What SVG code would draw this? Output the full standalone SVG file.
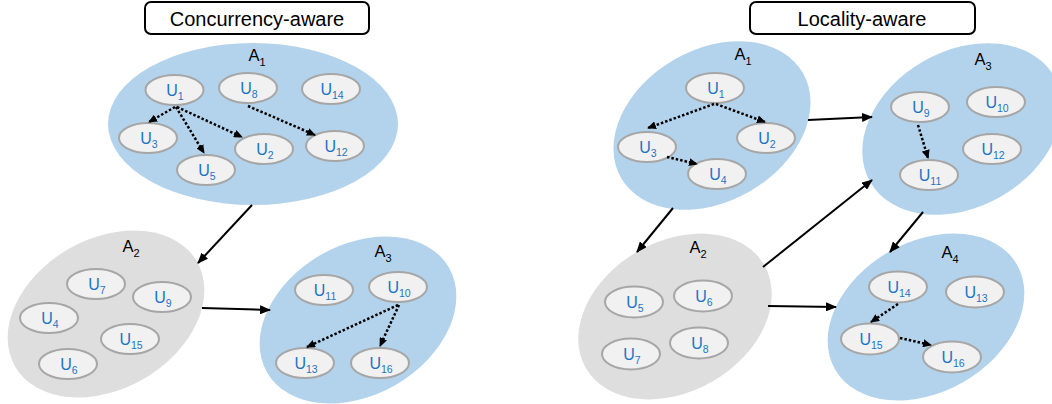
<svg xmlns="http://www.w3.org/2000/svg" width="1052" height="404" viewBox="0 0 1052 404">
<style>
.title{fill:#fff;stroke:#000;stroke-width:2}
.tt{font-family:"Liberation Sans",Arial,sans-serif;font-size:20px;fill:#000;text-anchor:middle}
.blue{fill:#b3d3ec}
.gray{fill:#dedede}
.al{font-family:"Liberation Sans",Arial,sans-serif;font-size:16.5px;fill:#000;text-anchor:middle}
.u{fill:#f1f1f1;stroke:#a6a6a6;stroke-width:2}
.ul{font-family:"Liberation Sans",Arial,sans-serif;font-size:16px;fill:#1e74c4;text-anchor:middle}
.sub{font-size:10.5px}
.asub{font-size:11px}
.solid{stroke:#000;stroke-width:2;fill:none;marker-end:url(#ah)}
.dot{stroke:#000;stroke-width:2.5;stroke-dasharray:2.5 2;fill:none;marker-end:url(#dh)}
</style>
<defs>
<marker id="ah" markerUnits="userSpaceOnUse" markerWidth="11" markerHeight="9" refX="10" refY="4.5" orient="auto"><path d="M0,0 L11,4.5 L0,9 z" fill="#000"/></marker>
<marker id="dh" markerUnits="userSpaceOnUse" markerWidth="9" markerHeight="8" refX="8" refY="4" orient="auto"><path d="M0,0 L9,4 L0,8 z" fill="#000"/></marker>
</defs>

<g id="title-left"><rect class="title" x="145" y="2" width="224" height="32" rx="6"/><text class="tt" x="257" y="26">Concurrency-aware</text></g>
<g id="title-right"><rect class="title" x="750" y="2" width="225" height="32" rx="6"/><text class="tt" x="862" y="26">Locality-aware</text></g>

<!-- Left side -->
<g id="L-A1"><ellipse class="blue" cx="253" cy="124" rx="145" ry="81"/><text class="al" x="257" y="61">A<tspan class="asub" dy="5">1</tspan></text></g>
<g id="L-A2"><ellipse class="gray" cx="0" cy="0" rx="105" ry="75" transform="translate(106,314) rotate(-30)"/><text class="al" x="131" y="252">A<tspan class="asub" dy="5">2</tspan></text></g>
<g id="L-A3"><ellipse class="blue" cx="0" cy="0" rx="105" ry="75" transform="translate(358,320) rotate(-30)"/><text class="al" x="383" y="257">A<tspan class="asub" dy="5">3</tspan></text></g>

<g id="L-U1"><ellipse class="u" cx="174.5" cy="90" rx="29" ry="15"/><text class="ul" x="175" y="96">U<tspan class="sub" dy="4">1</tspan></text></g>
<g id="L-U8"><ellipse class="u" cx="248" cy="88" rx="29" ry="15"/><text class="ul" x="249" y="94">U<tspan class="sub" dy="4">8</tspan></text></g>
<g id="L-U14"><ellipse class="u" cx="331" cy="89" rx="29" ry="15"/><text class="ul" x="332" y="95">U<tspan class="sub" dy="4">14</tspan></text></g>
<g id="L-U3"><ellipse class="u" cx="148" cy="138" rx="29" ry="15"/><text class="ul" x="149" y="144">U<tspan class="sub" dy="4">3</tspan></text></g>
<g id="L-U5"><ellipse class="u" cx="206" cy="170" rx="29" ry="15"/><text class="ul" x="207" y="176">U<tspan class="sub" dy="4">5</tspan></text></g>
<g id="L-U2"><ellipse class="u" cx="264" cy="149" rx="29" ry="15"/><text class="ul" x="265" y="155">U<tspan class="sub" dy="4">2</tspan></text></g>
<g id="L-U12"><ellipse class="u" cx="335" cy="146" rx="29" ry="15"/><text class="ul" x="336" y="152">U<tspan class="sub" dy="4">12</tspan></text></g>

<g id="L-U7"><ellipse class="u" cx="96" cy="284" rx="29" ry="15"/><text class="ul" x="97" y="290">U<tspan class="sub" dy="4">7</tspan></text></g>
<g id="L-U9"><ellipse class="u" cx="162" cy="297" rx="29" ry="15"/><text class="ul" x="163" y="303">U<tspan class="sub" dy="4">9</tspan></text></g>
<g id="L-U4"><ellipse class="u" cx="49" cy="318" rx="29" ry="15"/><text class="ul" x="50" y="324">U<tspan class="sub" dy="4">4</tspan></text></g>
<g id="L-U15"><ellipse class="u" cx="130" cy="339" rx="29" ry="15"/><text class="ul" x="131" y="345">U<tspan class="sub" dy="4">15</tspan></text></g>
<g id="L-U6"><ellipse class="u" cx="68" cy="364" rx="29" ry="15"/><text class="ul" x="69" y="370">U<tspan class="sub" dy="4">6</tspan></text></g>

<g id="L-U11"><ellipse class="u" cx="324" cy="290" rx="29" ry="15"/><text class="ul" x="325" y="296">U<tspan class="sub" dy="4">11</tspan></text></g>
<g id="L-U10"><ellipse class="u" cx="398" cy="287" rx="29" ry="15"/><text class="ul" x="399" y="293">U<tspan class="sub" dy="4">10</tspan></text></g>
<g id="L-U13"><ellipse class="u" cx="305" cy="363" rx="29" ry="15"/><text class="ul" x="306" y="369">U<tspan class="sub" dy="4">13</tspan></text></g>
<g id="L-U16"><ellipse class="u" cx="380" cy="363" rx="29" ry="15"/><text class="ul" x="381" y="369">U<tspan class="sub" dy="4">16</tspan></text></g>

<!-- Right side -->
<g id="R-A1"><ellipse class="blue" cx="0" cy="0" rx="105" ry="76" transform="translate(712,125.5) rotate(-30)"/><text class="al" x="743" y="60">A<tspan class="asub" dy="5">1</tspan></text></g>
<g id="R-A3"><ellipse class="blue" cx="0" cy="0" rx="106" ry="78" transform="translate(962,129) rotate(-30)"/><text class="al" x="983" y="65">A<tspan class="asub" dy="5">3</tspan></text></g>
<g id="R-A2"><ellipse class="gray" cx="0" cy="0" rx="103" ry="75" transform="translate(675,316.5) rotate(-30)"/><text class="al" x="698" y="253">A<tspan class="asub" dy="5">2</tspan></text></g>
<g id="R-A4"><ellipse class="blue" cx="0" cy="0" rx="105" ry="75" transform="translate(926,317) rotate(-30)"/><text class="al" x="950" y="258">A<tspan class="asub" dy="5">4</tspan></text></g>

<g id="R-U1"><ellipse class="u" cx="715" cy="88" rx="29" ry="15"/><text class="ul" x="716" y="94">U<tspan class="sub" dy="4">1</tspan></text></g>
<g id="R-U2"><ellipse class="u" cx="766" cy="138" rx="29" ry="15"/><text class="ul" x="767" y="144">U<tspan class="sub" dy="4">2</tspan></text></g>
<g id="R-U3"><ellipse class="u" cx="647" cy="147" rx="29" ry="15"/><text class="ul" x="648" y="153">U<tspan class="sub" dy="4">3</tspan></text></g>
<g id="R-U4"><ellipse class="u" cx="717" cy="174" rx="29" ry="15"/><text class="ul" x="718" y="180">U<tspan class="sub" dy="4">4</tspan></text></g>

<g id="R-U9"><ellipse class="u" cx="920" cy="107" rx="29" ry="15"/><text class="ul" x="921" y="113">U<tspan class="sub" dy="4">9</tspan></text></g>
<g id="R-U10"><ellipse class="u" cx="996" cy="102" rx="29" ry="15"/><text class="ul" x="997" y="108">U<tspan class="sub" dy="4">10</tspan></text></g>
<g id="R-U12"><ellipse class="u" cx="992" cy="149" rx="29" ry="15"/><text class="ul" x="993" y="155">U<tspan class="sub" dy="4">12</tspan></text></g>
<g id="R-U11"><ellipse class="u" cx="929" cy="175" rx="29" ry="15"/><text class="ul" x="930" y="181">U<tspan class="sub" dy="4">11</tspan></text></g>

<g id="R-U5"><ellipse class="u" cx="634" cy="302" rx="29" ry="15.5"/><text class="ul" x="635" y="308">U<tspan class="sub" dy="4">5</tspan></text></g>
<g id="R-U6"><ellipse class="u" cx="703" cy="296" rx="29" ry="15.5"/><text class="ul" x="704" y="302">U<tspan class="sub" dy="4">6</tspan></text></g>
<g id="R-U7"><ellipse class="u" cx="631" cy="354" rx="29" ry="15.5"/><text class="ul" x="632" y="360">U<tspan class="sub" dy="4">7</tspan></text></g>
<g id="R-U8"><ellipse class="u" cx="699" cy="343" rx="29" ry="15.5"/><text class="ul" x="700" y="349">U<tspan class="sub" dy="4">8</tspan></text></g>

<g id="R-U14"><ellipse class="u" cx="898" cy="287" rx="29" ry="15.5"/><text class="ul" x="899" y="293">U<tspan class="sub" dy="4">14</tspan></text></g>
<g id="R-U13"><ellipse class="u" cx="975" cy="292" rx="29" ry="15.5"/><text class="ul" x="976" y="298">U<tspan class="sub" dy="4">13</tspan></text></g>
<g id="R-U15"><ellipse class="u" cx="870" cy="339" rx="29" ry="15.5"/><text class="ul" x="871" y="345">U<tspan class="sub" dy="4">15</tspan></text></g>
<g id="R-U16"><ellipse class="u" cx="952" cy="357" rx="29" ry="15.5"/><text class="ul" x="953" y="363">U<tspan class="sub" dy="4">16</tspan></text></g>

<g id="connectors">
<line class="solid" x1="252" y1="205" x2="198" y2="263"/>
<line class="solid" x1="202" y1="308" x2="270" y2="310"/>
<line class="dot" x1="175" y1="107" x2="149" y2="122"/>
<line class="dot" x1="176" y1="107" x2="204" y2="153"/>
<line class="dot" x1="177" y1="107" x2="242" y2="137"/>
<line class="dot" x1="248" y1="106" x2="315" y2="135"/>
<line class="dot" x1="398" y1="305" x2="307" y2="347"/>
<line class="dot" x1="399" y1="305" x2="380" y2="346"/>

<line class="solid" x1="673" y1="208" x2="637" y2="252"/>
<line class="solid" x1="808" y1="120" x2="872" y2="117"/>
<line class="solid" x1="763" y1="267" x2="872" y2="180"/>
<line class="solid" x1="768" y1="306" x2="836" y2="307"/>
<line class="solid" x1="923" y1="212" x2="890" y2="252"/>
<line class="dot" x1="714" y1="104" x2="648" y2="128"/>
<line class="dot" x1="716" y1="104" x2="765" y2="122"/>
<line class="dot" x1="667" y1="157" x2="697" y2="164"/>
<line class="dot" x1="918" y1="125" x2="928" y2="158"/>
<line class="dot" x1="898" y1="304" x2="871" y2="322"/>
<line class="dot" x1="900" y1="338" x2="931" y2="345"/>
</g>
</svg>
